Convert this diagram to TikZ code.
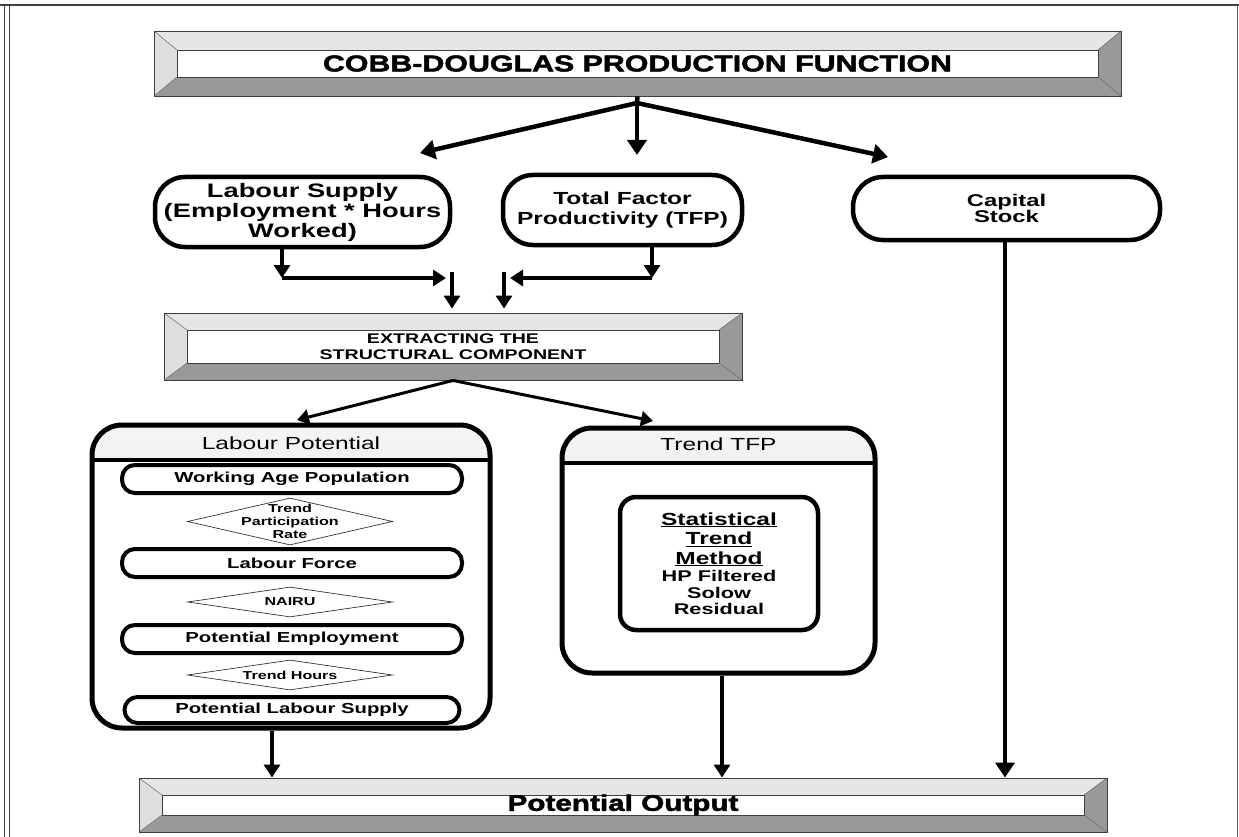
\documentclass[tikz,border=0pt]{standalone}
\usepackage{fontspec}
\setmainfont{Liberation Sans}[FakeStretch=1.4]
\newfontfamily\heavyfont{Liberation Sans}[FakeStretch=1.32, FakeBold=2]
\usetikzlibrary{calc, positioning}
\usetikzlibrary{arrows.meta}
\usetikzlibrary{shapes.geometric}

\definecolor{bevlight}{HTML}{E6E6E6}
\definecolor{bevside}{HTML}{DEDEDE}
\definecolor{bevdark}{HTML}{999999}

\begin{document}
\begin{tikzpicture}[x=1pt, y=-1pt,
  bevelbar/.style={draw=black!75, line width=0.9pt, inner sep=0pt, align=center,
    path picture={
      \path (path picture bounding box.north west) coordinate (bnw)
            (path picture bounding box.north east) coordinate (bne)
            (path picture bounding box.south west) coordinate (bsw)
            (path picture bounding box.south east) coordinate (bse);
      \fill[bevlight] (bnw) -- (bne) -- ([xshift=-23pt,yshift=-#1]bne)
        -- ([xshift=23pt,yshift=-#1]bnw) -- cycle;
      \fill[bevdark] (bsw) -- (bse) -- ([xshift=-23pt,yshift=#1]bse)
        -- ([xshift=23pt,yshift=#1]bsw) -- cycle;
      \fill[bevside] (bnw) -- ([xshift=23pt,yshift=-#1]bnw)
        -- ([xshift=23pt,yshift=#1]bsw) -- (bsw) -- cycle;
      \fill[bevdark] (bne) -- ([xshift=-23pt,yshift=-#1]bne)
        -- ([xshift=-23pt,yshift=#1]bse) -- (bse) -- cycle;
      \draw[black!75, line width=0.7pt, fill=white] ([xshift=23pt,yshift=-#1]bnw)
        rectangle ([xshift=-23pt,yshift=#1]bse);
      \draw[black!60, line width=0.5pt]
        (bnw) -- ([xshift=23pt,yshift=-#1]bnw) (bsw) -- ([xshift=23pt,yshift=#1]bsw)
        (bne) -- ([xshift=-23pt,yshift=-#1]bne) (bse) -- ([xshift=-23pt,yshift=#1]bse);
    }},
  bevelbar/.default=18pt,
  pill/.style={draw, line width=4.5pt, rounded corners=#1, inner sep=0pt,
    align=center, fill=white},
  subpill/.style={pill=13pt, line width=4pt,
    font=\bfseries\fontsize{14.5}{15}\selectfont},
  panel/.style={draw, line width=5pt, rounded corners=30pt, inner sep=0pt,
    path picture={
      \fill[sharp corners, top color=gray!8, bottom color=gray!32]
        (path picture bounding box.north west)
        rectangle ([yshift=-35pt]path picture bounding box.north east);
      \draw[sharp corners, line width=4pt]
        ([yshift=-35pt]path picture bounding box.north west)
        -- ([yshift=-35pt]path picture bounding box.north east);
    }},
  gate/.style={diamond, draw=black!80, line width=0.7pt, minimum width=205pt,
    minimum height=#1, inner sep=0pt},
  gatetext/.style={align=center, inner sep=0pt,
    font=\bfseries\fontsize{11.5}{13}\selectfont},
  bigline/.style={line width=4.5pt},
  bigarrow/.style={line width=4.5pt, -{Triangle[width=19pt,length=15pt]}},
  midarrow/.style={line width=3.5pt, -{Triangle[width=16pt,length=13pt]}},
  thinarrow/.style={line width=3pt, -{Triangle[width=15pt,length=12pt]}}]

\useasboundingbox (0,0) rectangle (1239,837);

% page frame
\draw[line width=1.3pt, black!75] (0,5) -- (1239,5);
\draw[line width=1pt, black!75] (4,5) -- (4,837);
\draw[line width=1pt, black!75] (9,5) -- (9,837);
\draw[line width=1pt, black!60] (1237,5) -- (1237,837);

% bars
\node[bevelbar=19pt, minimum width=967pt, minimum height=65pt,
  font=\heavyfont\bfseries\fontsize{23}{24}\selectfont]
  (cobb) at (637.5,63.5) {COBB-DOUGLAS PRODUCTION FUNCTION};
\node[bevelbar=17pt, minimum width=578pt, minimum height=67pt,
  font=\bfseries\fontsize{14}{16}\selectfont]
  (extract) at (453,346.5) {EXTRACTING THE\\STRUCTURAL COMPONENT};
\node[bevelbar=17pt, minimum width=968pt, minimum height=54pt,
  font=\heavyfont\bfseries\fontsize{22.5}{24}\selectfont]
  (potout) at (623,805) {Potential Output};

% inputs
\node[pill=30pt, minimum width=295pt, minimum height=70pt,
  font=\bfseries\fontsize{19.5}{20}\selectfont]
  (labsup) at (302.5,212) {Labour Supply\\(Employment * Hours\\Worked)};
\node[pill=30pt, minimum width=239pt, minimum height=70pt,
  font=\bfseries\fontsize{17.5}{20}\selectfont]
  (tfp) at (622.5,210) {Total Factor\\Productivity (TFP)};
\node[pill=30pt, minimum width=307pt, minimum height=63pt,
  font=\bfseries\fontsize{17}{16}\selectfont]
  (capital) at (1006.5,208.5) {Capital\\Stock};

% labour potential panel
\node[panel, minimum width=398pt, minimum height=303pt] (labpot) at (291,576.5) {};
\node[font=\fontsize{17.5}{18}\selectfont] (labpotHead) at (291,443) {Labour Potential};
\node[subpill, minimum width=340pt, minimum height=28pt] (wap) at (292,479)
  {Working Age Population};
\node[gate=47pt] (tpr) at (290,521.5) {};
\node[gatetext] (tprText) at (tpr) {Trend\\Participation\\Rate};
\node[subpill, minimum width=340pt, minimum height=28pt] (labforce) at (292,563)
  {Labour Force};
\node[gate=30pt] (nairu) at (290,602) {};
\node[gatetext] (nairuText) at (nairu) {NAIRU};
\node[subpill, minimum width=340pt, minimum height=28pt] (potemp) at (292,639)
  {Potential Employment};
\node[gate=30pt] (trhours) at (290,675) {};
\node[gatetext] (trhoursText) at (trhours) {Trend Hours};
\node[subpill, minimum width=335pt, minimum height=26pt] (potlab) at (292,710)
  {Potential Labour Supply};

% trend tfp panel
\node[panel, minimum width=313pt, minimum height=245pt] (trendtfp) at (718.5,550.5) {};
\node[font=\fontsize{17.5}{18}\selectfont] (trendtfpHead) at (718.5,444) {Trend TFP};
\node[draw, line width=4.5pt, rounded corners=16pt, minimum width=198pt,
  minimum height=133pt, inner sep=0pt, align=center,
  font=\bfseries\fontsize{17.5}{19.5}\selectfont]
  (statmeth) at (719,563.5)
  {\underline{Statistical}\\\underline{Trend}\\\underline{Method}\\[-2pt]
   {\fontsize{15.5}{15}\selectfont HP Filtered}\\[-3pt]
   {\fontsize{15.5}{15}\selectfont Solow}\\[-3pt]
   {\fontsize{15.5}{15}\selectfont Residual}};

% connectors
\coordinate (split) at (637,103);
\coordinate (toLab) at (420,153);
\coordinate (toTfp) at (637,155);
\coordinate (toCap) at (888,157);
\draw[bigline] (cobb.south) -- (split);
\draw[bigarrow] (split) -- (toLab);
\draw[bigarrow] (split) -- (toTfp);
\draw[bigarrow] (split) -- (toCap);

\coordinate (labTurn) at (282,278);
\coordinate (labEnd) at (446,278);
\coordinate (labDrop) at (452,272);
\coordinate (tfpTurn) at (652,278);
\coordinate (tfpEnd) at (510,278);
\coordinate (tfpDrop) at (504,272);
\draw[midarrow] (labsup.south -| labTurn) -- (labTurn);
\draw[midarrow] (labTurn) -- (labEnd);
\draw[midarrow, shorten >=4pt] (labDrop) -- (labDrop |- extract.north);
\draw[midarrow] (tfp.south -| tfpTurn) -- (tfpTurn);
\draw[midarrow] (tfpTurn) -- (tfpEnd);
\draw[midarrow, shorten >=4pt] (tfpDrop) -- (tfpDrop |- extract.north);

\coordinate (toLabpot) at (297,420);
\coordinate (toTrend) at (653,421);
\draw[thinarrow] (extract.south) -- (toLabpot);
\draw[thinarrow] (extract.south) -- (toTrend);

\coordinate (lpX) at (272,0);
\coordinate (ttX) at (722,0);
\coordinate (capX) at (1005,0);
\draw[midarrow] (labpot.south -| lpX) -- (potout.north -| lpX);
\draw[midarrow] (trendtfp.south -| ttX) -- (potout.north -| ttX);
\draw[bigarrow] (capital.south -| capX) -- (potout.north -| capX);
\end{tikzpicture}
\end{document}
